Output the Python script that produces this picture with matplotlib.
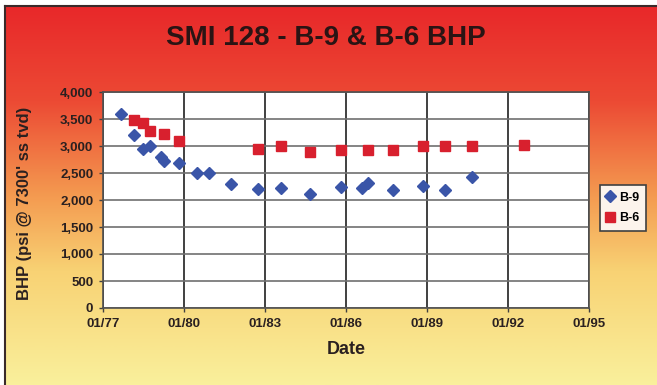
import numpy as np
import pandas as pd
import matplotlib
matplotlib.use('Agg')
import matplotlib.pyplot as plt
import matplotlib.dates as mdates
from matplotlib.colors import LinearSegmentedColormap

# B-9 well bottom hole pressure readings
b9_dates = ['1977-09', '1978-03', '1978-07', '1978-10', '1979-03', '1979-04',
            '1979-11', '1980-07', '1980-12', '1981-10', '1982-10', '1983-08',
            '1984-09', '1985-11', '1986-08', '1986-11', '1987-10', '1988-11',
            '1989-09', '1990-09']
b9_bhp = [3600, 3200, 2950, 3000, 2800, 2720, 2680, 2500, 2500, 2300, 2200,
          2230, 2120, 2250, 2230, 2320, 2190, 2260, 2190, 2430]

# B-6 well bottom hole pressure readings
b6_dates = ['1978-03', '1978-07', '1978-10', '1979-04', '1979-11', '1982-10',
            '1983-08', '1984-09', '1985-11', '1986-11', '1987-10', '1988-11',
            '1989-09', '1990-09', '1992-08']
b6_bhp = [3480, 3420, 3270, 3220, 3100, 2940, 3000, 2890, 2920, 2920, 2920,
          3000, 3000, 3000, 3020]

tick_years = [1977, 1980, 1983, 1986, 1989, 1992, 1995]

W, H = 657, 385
fig = plt.figure(figsize=(W / 100, H / 100), dpi=100)
fig.patch.set_facecolor('white')

# red-to-yellow backdrop with a dark frame on the top and left
bg = fig.add_axes([5 / W, 0, 1 - 5 / W, 1 - 6 / H], zorder=-1)
grad = LinearSegmentedColormap.from_list(
    'warm', [(0.0, '#e8282a'), (0.25, '#ec4a34'), (0.5, '#f49a50'),
             (0.7, '#f8d274'), (1.0, '#faf09c')])
bg.imshow(np.linspace(0, 1, 256).reshape(-1, 1), cmap=grad, aspect='auto',
          extent=[0, 1, 0, 1])
bg.set_xticks([])
bg.set_yticks([])
for side in ['right', 'bottom']:
    bg.spines[side].set_visible(False)
for side in ['left', 'top']:
    bg.spines[side].set_color('#3a2a2a')
    bg.spines[side].set_linewidth(1.5)

ax = fig.add_axes([103 / W, 77 / H, 486 / W, 216 / H])
ax.set_facecolor('white')

d9 = pd.to_datetime(b9_dates)
d6 = pd.to_datetime(b6_dates)
ax.plot(d9, b9_bhp, linestyle='none', marker='D', markersize=6.5,
        color='#3a55a8', label='B-9', zorder=3)
ax.plot(d6, b6_bhp, linestyle='none', marker='s', markersize=6.5,
        color='#d8202e', label='B-6', zorder=3)

ax.set_xlim(pd.Timestamp('1977-01-01'), pd.Timestamp('1995-01-01'))
ax.set_ylim(0, 4000)
ax.set_xticks([pd.Timestamp(f'{y}-01-01') for y in tick_years])
ax.xaxis.set_major_formatter(mdates.DateFormatter('%m/%y'))
ax.set_yticks(range(0, 4001, 500))
ax.yaxis.set_major_formatter(matplotlib.ticker.StrMethodFormatter('{x:,.0f}'))

ax.grid(axis='y', color='#707070', linewidth=1.2)
ax.grid(axis='x', color='#202020', linewidth=1.2)
ax.set_axisbelow(True)
for s in ax.spines.values():
    s.set_color('#505050')
    s.set_linewidth(1.2)

ax.tick_params(direction='out', length=3, width=1, color='#404040',
               labelsize=9.5, labelcolor='#2a2020', pad=4)
for lbl in ax.get_xticklabels() + ax.get_yticklabels():
    lbl.set_fontweight('bold')
    lbl.set_fontfamily('Liberation Sans')

ax.set_xlabel('Date', fontsize=13, fontweight='bold', color='#2a2020',
              family='Liberation Sans', labelpad=8)
fig.text(25 / W, 1 - 203 / H, "BHP (psi @ 7300' ss tvd)", rotation=90,
         ha='center', va='center', fontsize=12, fontweight='bold',
         color='#2a2020', family='Liberation Sans')

fig.text(326 / W, 1 - 38 / H, 'SMI 128 - B-9 & B-6 BHP', ha='center',
         va='center', fontsize=20, fontweight='bold', color='#2a1414',
         family='Liberation Sans')

leg = ax.legend(loc='center left', bbox_to_anchor=(594 / W, 1 - 208 / H),
                bbox_transform=fig.transFigure, frameon=True, fancybox=False,
                handlelength=0.6, handletextpad=0.4, borderpad=0.5,
                labelspacing=0.7, prop={'family': 'Liberation Sans',
                                        'weight': 'bold', 'size': 9})
leg.get_frame().set_edgecolor('#404040')
leg.get_frame().set_linewidth(1.2)
leg.get_frame().set_facecolor('#fcf4ec')
leg.get_frame().set_alpha(1)

fig.savefig('out.png', dpi=100)
